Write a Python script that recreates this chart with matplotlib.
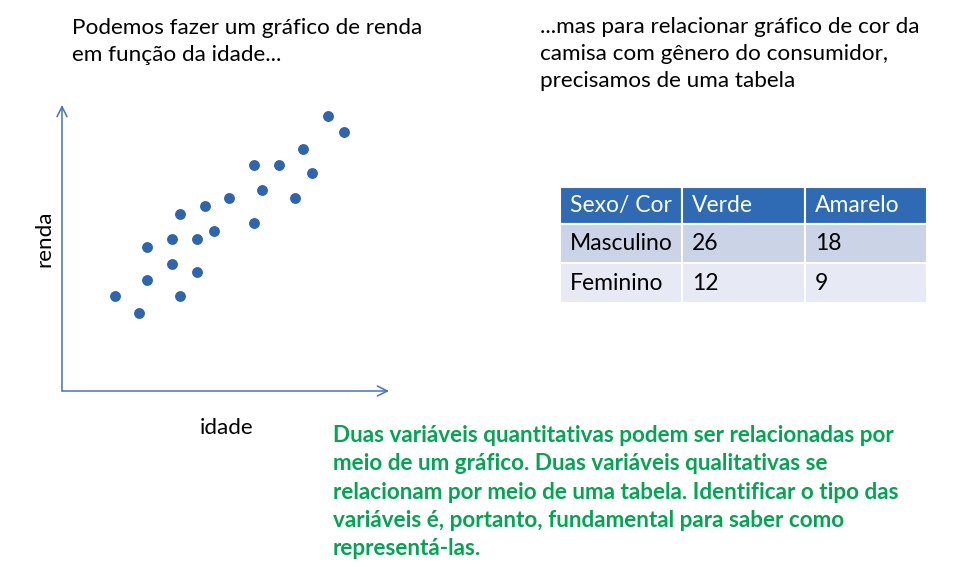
import matplotlib
matplotlib.use("Agg")
import matplotlib.pyplot as plt
from matplotlib.patches import Rectangle

plt.rcParams['font.family'] = ['Lato', 'DejaVu Sans']

# - DATA -
idade = [81.4, 86.2, 73.8, 58.8, 66.5, 76.4, 61.2, 51.2, 71.3, 43.7, 36.2,
         58.8, 46.5, 33.7, 41.3, 26.0, 33.7, 41.3, 26.0, 16.3, 36.2, 23.5]
renda = [96.2, 90.5, 84.5, 78.9, 78.9, 76.1, 70.2, 67.4, 67.4, 64.6, 61.8,
         58.6, 55.8, 53.0, 53.0, 50.2, 44.3, 41.5, 38.7, 33.1, 33.1, 27.2]

tab_header = ["Sexo/ Cor", "Verde", "Amarelo"]
tab_rows = ["Masculino", "Feminino"]
verde = [26, 12]
amarelo = [18, 9]

W, H = 969, 567
fig = plt.figure(figsize=(W/100, H/100), dpi=100)

# overlay axes in pixel units for text + table
ov = fig.add_axes([0, 0, 1, 1])
ov.set_xlim(0, W)
ov.set_ylim(H, 0)
ov.axis('off')

# - SCATTER -
x0, x1, y0, y1 = 62, 389, 105, 391
ax = fig.add_axes([x0/W, (H-y1)/H, (x1-x0)/W, (y1-y0)/H])
ax.set_xlim(0, 100)
ax.set_ylim(0, 100)
ax.axis('off')
axcol = '#4472C4'
ax.annotate('', xy=(100, 0), xytext=(0, 0),
            arrowprops=dict(arrowstyle='->', color=axcol, lw=1.1,
                            shrinkA=0, shrinkB=0, mutation_scale=18))
ax.annotate('', xy=(0, 100), xytext=(0, 0),
            arrowprops=dict(arrowstyle='->', color=axcol, lw=1.1,
                            shrinkA=0, shrinkB=0, mutation_scale=18))
ax.plot(idade, renda, 'o', color='#2E65B0', markersize=6.8, clip_on=False)

fs = 16.2
ov.text(44, 239, 'renda', rotation=90, fontsize=fs, ha='center', va='center')
ov.text(227, 428, 'idade', fontsize=fs, ha='center', va='center')

# - TEXTS -
ov.text(72, 18, 'Podemos fazer um gráfico de renda\nem função da idade...',
        fontsize=fs, va='top', ha='left', linespacing=1.45)
ov.text(540, 17, '...mas para relacionar gráfico de cor da\ncamisa com gênero do consumidor,\nprecisamos de uma tabela',
        fontsize=fs, va='top', ha='left', linespacing=1.45)

green_txt = ("Duas variáveis quantitativas podem ser relacionadas por\n"
             "meio de um gráfico. Duas variáveis qualitativas se\n"
             "relacionam por meio de uma tabela. Identificar o tipo das\n"
             "variáveis é, portanto, fundamental para saber como\n"
             "representá-las.")
ov.text(333, 425, green_txt, fontsize=fs, fontweight='bold', color='#00A651',
        va='top', ha='left', linespacing=1.43)

# - TABLE -
col_x = [560, 682, 805, 927]
row_y = [187, 224, 263, 303]
fills = ['#2F6AB5', '#CBD3E7', '#E7EAF5']
cells = [tab_header] + [[tab_rows[i], str(verde[i]), str(amarelo[i])] for i in range(len(tab_rows))]
for r, row in enumerate(cells):
    for c, val in enumerate(row):
        ov.add_patch(Rectangle((col_x[c], row_y[r]), col_x[c+1]-col_x[c], row_y[r+1]-row_y[r],
                               facecolor=fills[r], edgecolor='white', lw=1.5))
        ov.text(col_x[c] + 10, (row_y[r]+row_y[r+1])/2, val, fontsize=16.5,
                color='white' if r == 0 else 'black', va='center', ha='left')

fig.savefig('out.png', dpi=100)
